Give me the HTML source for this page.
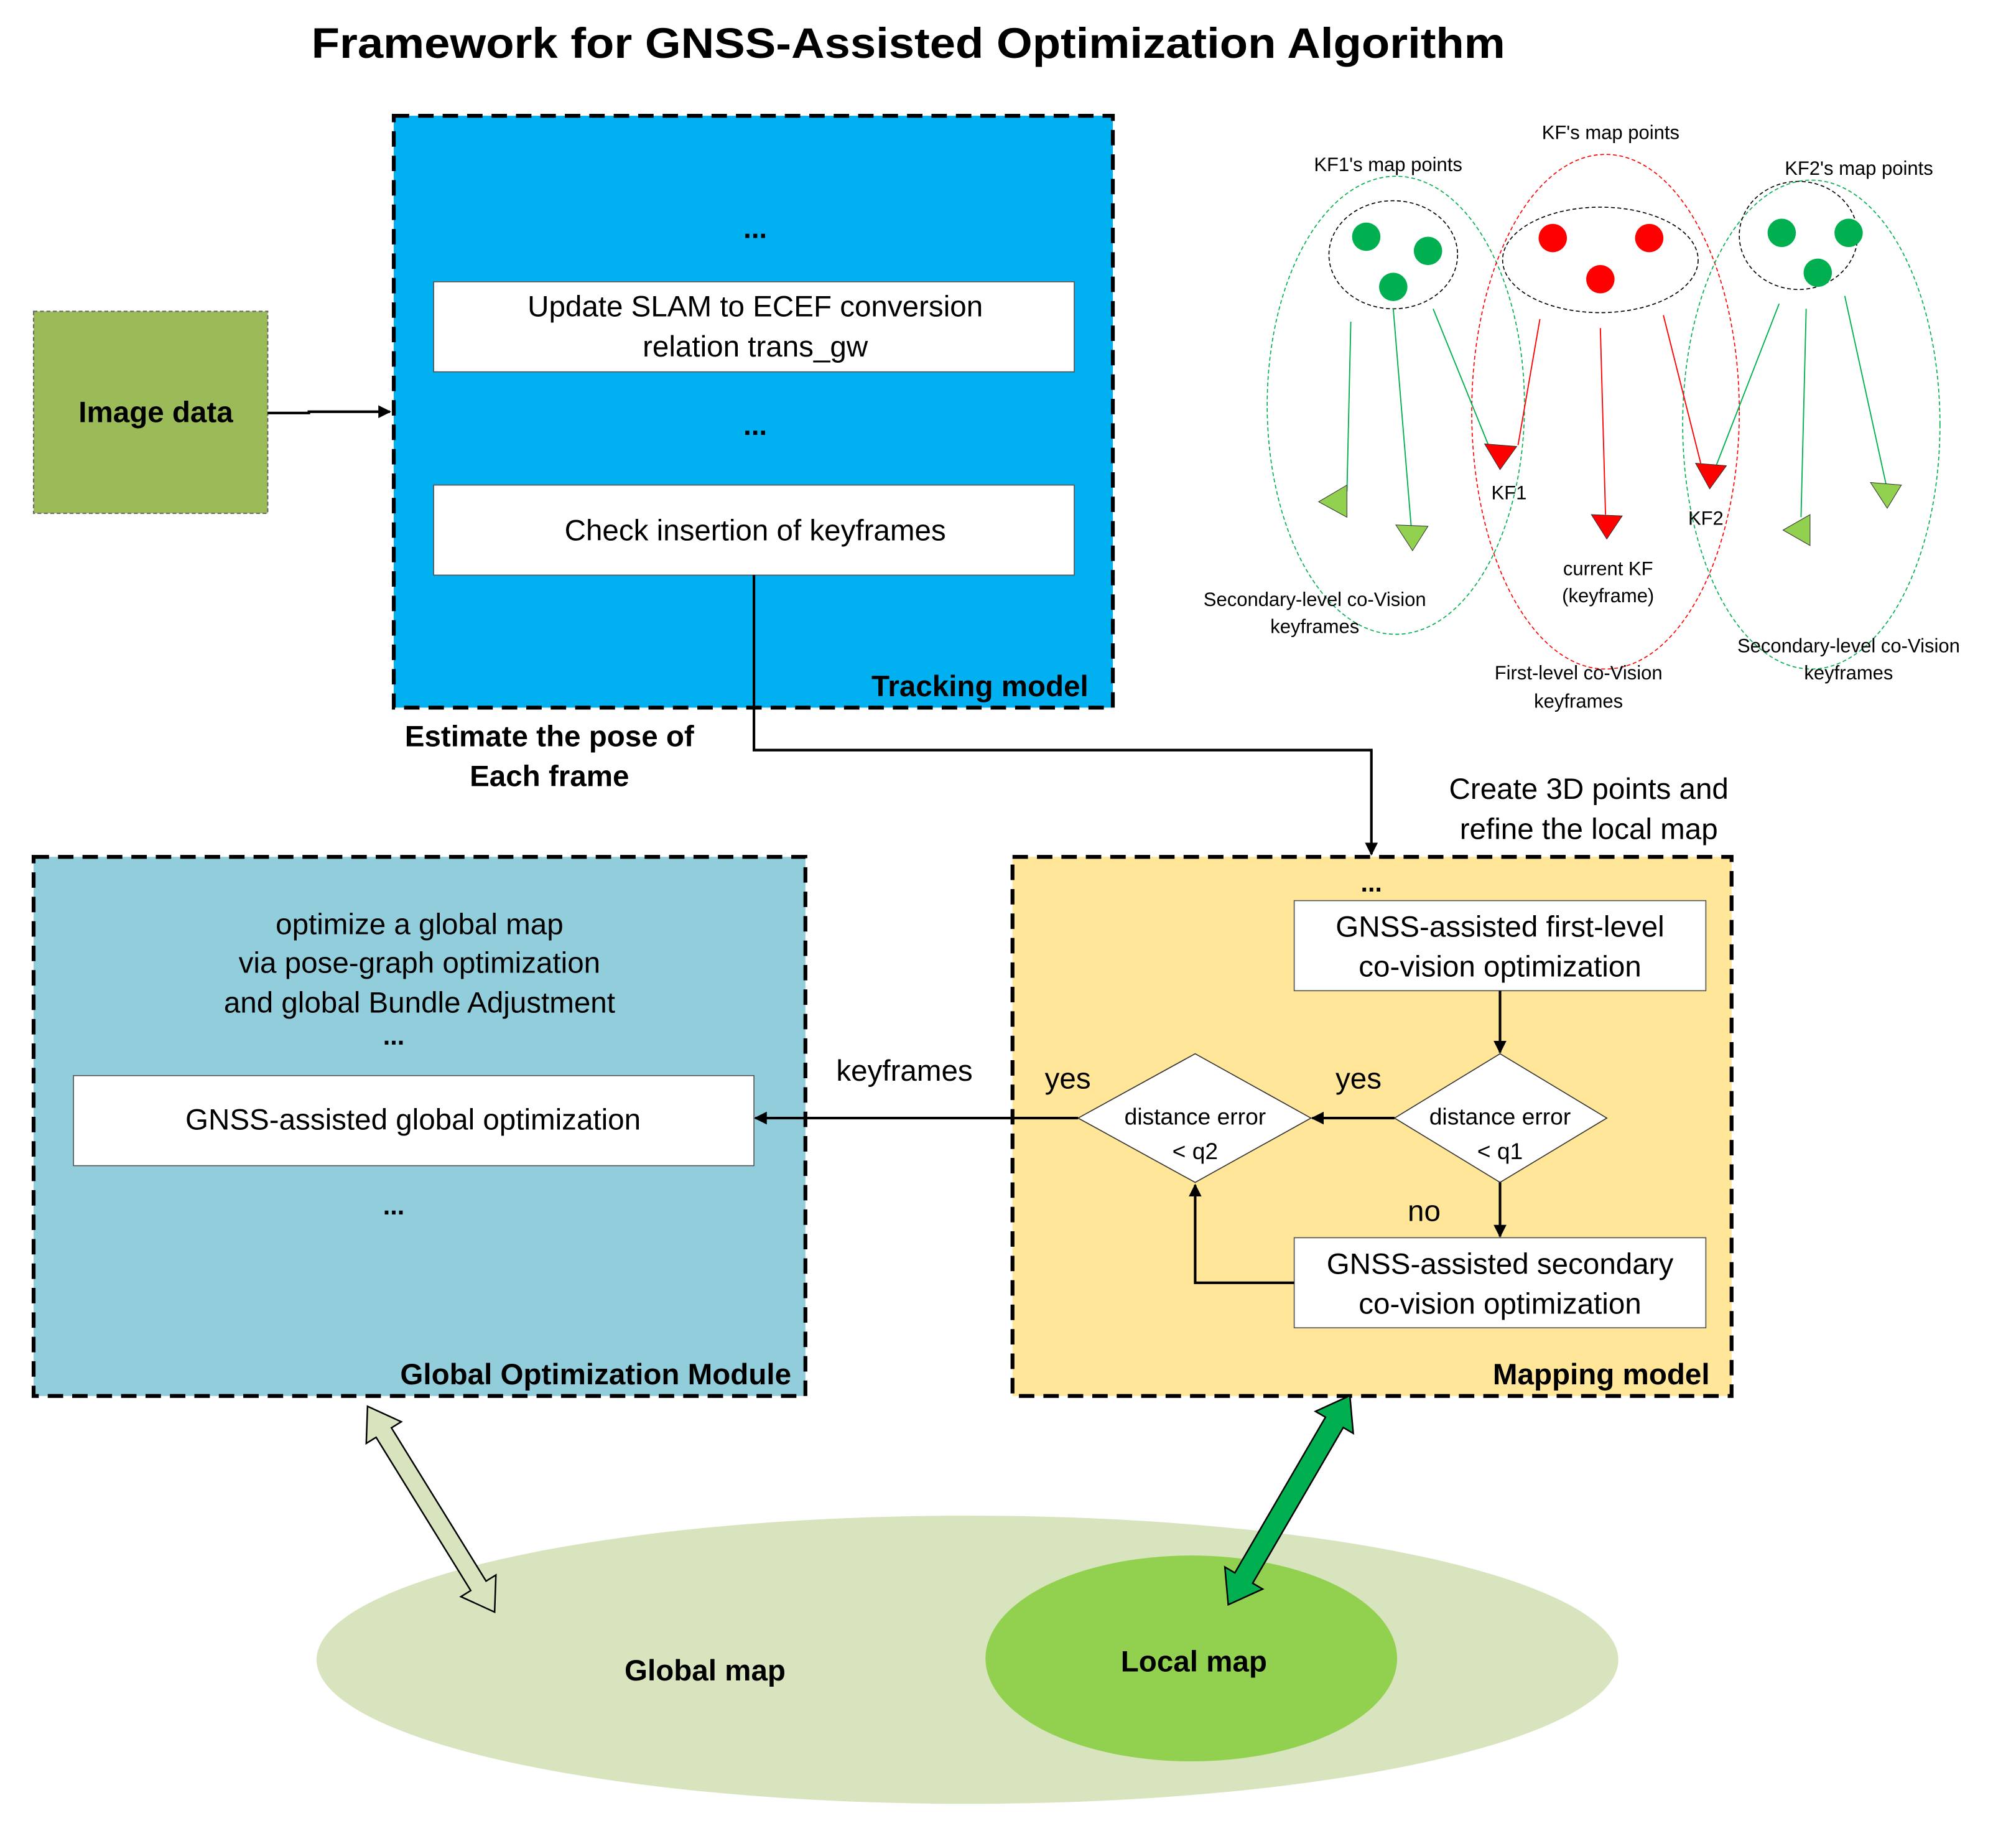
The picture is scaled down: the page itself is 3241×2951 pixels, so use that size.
<!DOCTYPE html>
<html><head><meta charset="utf-8"><style>html,body{margin:0;padding:0;background:#fff}svg{display:block}text{font-family:"Liberation Sans",sans-serif;}</style></head>
<body>
<svg width="3241" height="2951" viewBox="0 0 1567 1427" xmlns="http://www.w3.org/2000/svg">
<defs>
<marker id="ah" markerWidth="10" markerHeight="10" refX="9" refY="5" orient="auto" markerUnits="userSpaceOnUse"><path d="M0,0 L10,5 L0,10 z" fill="#000"/></marker>
</defs>
<rect width="1567" height="1427" fill="#fff"/>
<text x="706" y="45" font-size="33" font-weight="bold" text-anchor="middle" textLength="928" lengthAdjust="spacingAndGlyphs">Framework for GNSS-Assisted Optimization Algorithm</text>

<!-- Image data -->
<rect x="26" y="242" width="182" height="157" fill="#9BBB59" stroke="#666" stroke-dasharray="3,2"/>
<text x="121" y="328" font-size="23" font-weight="bold" text-anchor="middle">Image data</text>
<polyline points="208,321 240,321 240,320 303,320" fill="none" stroke="#000" stroke-width="2" marker-end="url(#ah)"/>

<!-- Tracking -->
<rect x="306" y="90" width="559" height="460" fill="#00B0F0" stroke="#000" stroke-width="3" stroke-dasharray="12,7"/>
<text x="587" y="185" font-size="22" font-weight="bold" text-anchor="middle">...</text>
<rect x="337" y="219" width="498" height="70" fill="#fff" stroke="#555" stroke-width="0.8"/>
<text x="587" y="246" font-size="23" text-anchor="middle">Update SLAM to ECEF conversion</text>
<text x="587" y="277" font-size="23" text-anchor="middle">relation trans_gw</text>
<text x="587" y="338" font-size="22" font-weight="bold" text-anchor="middle">...</text>
<rect x="337" y="377" width="498" height="70" fill="#fff" stroke="#555" stroke-width="0.8"/>
<text x="587" y="420" font-size="23" text-anchor="middle">Check insertion of keyframes</text>
<text x="846" y="541" font-size="23" font-weight="bold" text-anchor="end">Tracking model</text>
<text x="427" y="580" font-size="23" font-weight="bold" text-anchor="middle">Estimate the pose of</text>
<text x="427" y="611" font-size="23" font-weight="bold" text-anchor="middle">Each frame</text>
<polyline points="586,447 586,583 1066,583 1066,664" fill="none" stroke="#000" stroke-width="2" marker-end="url(#ah)"/>
<text x="1235" y="621" font-size="23" text-anchor="middle">Create 3D points and</text>
<text x="1235" y="652" font-size="23" text-anchor="middle">refine the local map</text>

<!-- Mapping -->
<rect x="787" y="666" width="559" height="419" fill="#FFE699" stroke="#000" stroke-width="3" stroke-dasharray="12,7"/>
<text x="1066" y="693" font-size="20" font-weight="bold" text-anchor="middle">...</text>
<rect x="1006" y="700" width="320" height="70" fill="#fff" stroke="#555" stroke-width="0.8"/>
<text x="1166" y="728" font-size="23" text-anchor="middle">GNSS-assisted first-level</text>
<text x="1166" y="759" font-size="23" text-anchor="middle">co-vision optimization</text>
<polygon points="1166,819 1249,869 1166,919 1084,869" fill="#fff" stroke="#333" stroke-width="0.8"/>
<text x="1166" y="874" font-size="18" text-anchor="middle">distance error</text>
<text x="1166" y="901" font-size="18" text-anchor="middle">&lt; q1</text>
<polygon points="929,819 1019,869 929,919 838,869" fill="#fff" stroke="#333" stroke-width="0.8"/>
<text x="929" y="874" font-size="18" text-anchor="middle">distance error</text>
<text x="929" y="901" font-size="18" text-anchor="middle">&lt; q2</text>
<rect x="1006" y="962" width="320" height="70" fill="#fff" stroke="#555" stroke-width="0.8"/>
<text x="1166" y="990" font-size="23" text-anchor="middle">GNSS-assisted secondary</text>
<text x="1166" y="1021" font-size="23" text-anchor="middle">co-vision optimization</text>
<line x1="1166" y1="770" x2="1166" y2="818" stroke="#000" stroke-width="2" marker-end="url(#ah)"/>
<line x1="1084" y1="869" x2="1020" y2="869" stroke="#000" stroke-width="2" marker-end="url(#ah)"/>
<line x1="1166" y1="919" x2="1166" y2="961" stroke="#000" stroke-width="2" marker-end="url(#ah)"/>
<polyline points="1006,997 929,997 929,921" fill="none" stroke="#000" stroke-width="2" marker-end="url(#ah)"/>
<text x="1056" y="846" font-size="23" text-anchor="middle">yes</text>
<text x="830" y="846" font-size="23" text-anchor="middle">yes</text>
<text x="1107" y="949" font-size="23" text-anchor="middle">no</text>
<text x="703" y="840" font-size="23" text-anchor="middle">keyframes</text>
<text x="1329" y="1076" font-size="23" font-weight="bold" text-anchor="end">Mapping model</text>

<!-- Global -->
<rect x="26" y="666" width="600" height="419" fill="#92CDDC" stroke="#000" stroke-width="3" stroke-dasharray="12,7"/>
<text x="326" y="726" font-size="23" text-anchor="middle">optimize a global map</text>
<text x="326" y="756" font-size="23" text-anchor="middle">via pose-graph optimization</text>
<text x="326" y="787" font-size="23" text-anchor="middle">and global Bundle Adjustment</text>
<text x="306" y="812" font-size="20" font-weight="bold" text-anchor="middle">...</text>
<rect x="57" y="836" width="529" height="70" fill="#fff" stroke="#555" stroke-width="0.8"/>
<text x="321" y="878" font-size="23" text-anchor="middle">GNSS-assisted global optimization</text>
<text x="306" y="944" font-size="20" font-weight="bold" text-anchor="middle">...</text>
<text x="615" y="1076" font-size="23" font-weight="bold" text-anchor="end">Global Optimization Module</text>
<line x1="838" y1="869" x2="587" y2="869" stroke="#000" stroke-width="2" marker-end="url(#ah)"/>

<!-- maps -->
<ellipse cx="752" cy="1290" rx="506" ry="112" fill="#D7E4BD"/>
<ellipse cx="926" cy="1289" rx="160" ry="80" fill="#92D050"/>
<text x="548" y="1306" font-size="23" font-weight="bold" text-anchor="middle">Global map</text>
<text x="928" y="1299" font-size="23" font-weight="bold" text-anchor="middle">Local map</text>

<!-- double arrows -->
<g transform="translate(335,1173) rotate(58.3)">
<polygon points="-94,0 -70,-16 -70,-7 70,-7 70,-16 94,0 70,16 70,7 -70,7 -70,16" fill="#D7E4BD" stroke="#000" stroke-width="1.2"/>
</g>
<g transform="translate(1002,1166) rotate(-59.8)">
<polygon points="-94,0 -70,-17 -70,-8 70,-8 70,-17 94,0 70,17 70,8 -70,8 -70,17" fill="#00B050" stroke="#000" stroke-width="1.2"/>
</g>

<!-- right diagram -->
<g fill="none" stroke-width="0.8" stroke-dasharray="3,2">
<ellipse cx="1085" cy="315" rx="100" ry="178" stroke="#00B050"/>
<ellipse cx="1248" cy="320" rx="104" ry="200" stroke="#FF0000"/>
<ellipse cx="1408" cy="330" rx="100" ry="190" stroke="#00B050"/>
<ellipse cx="1083" cy="198" rx="50" ry="42" stroke="#000"/>
<ellipse cx="1244" cy="202" rx="76" ry="41" stroke="#000"/>
<ellipse cx="1398" cy="183" rx="46" ry="42" stroke="#000"/>
</g>
<g fill="#00B050"><circle cx="1062" cy="184" r="11"/><circle cx="1110" cy="195" r="11"/><circle cx="1083" cy="223" r="11"/>
<circle cx="1385" cy="181" r="11"/><circle cx="1437" cy="181" r="11"/><circle cx="1413" cy="212" r="11"/></g>
<g fill="#FF0000"><circle cx="1207" cy="185" r="11"/><circle cx="1282" cy="185" r="11"/><circle cx="1244" cy="217" r="11"/></g>
<g stroke-width="0.9">
<line x1="1050" y1="250" x2="1047" y2="382" stroke="#00B050"/>
<line x1="1083" y1="240" x2="1097" y2="410" stroke="#00B050"/>
<line x1="1114" y1="240" x2="1157" y2="346" stroke="#00B050"/>
<line x1="1197" y1="248" x2="1180" y2="346" stroke="#FF0000"/>
<line x1="1244" y1="255" x2="1248" y2="400" stroke="#FF0000"/>
<line x1="1293" y1="245" x2="1322" y2="360" stroke="#FF0000"/>
<line x1="1383" y1="236" x2="1334" y2="362" stroke="#00B050"/>
<line x1="1404" y1="240" x2="1400" y2="402" stroke="#00B050"/>
<line x1="1434" y1="230" x2="1466" y2="376" stroke="#00B050"/>
</g>
<g stroke="#333" stroke-width="0.5">
<polygon points="1154,345 1179,347 1166,365" fill="#FF0000"/>
<polygon points="1237,400 1261,401 1249,419" fill="#FF0000"/>
<polygon points="1318,360 1342,362 1329,380" fill="#FF0000"/>
<polygon points="1047,377 1047,402 1025,390" fill="#92D050"/>
<polygon points="1085,408 1110,409 1098,428" fill="#92D050"/>
<polygon points="1407,400 1407,424 1386,412" fill="#92D050"/>
<polygon points="1454,375 1478,377 1467,395" fill="#92D050"/>
</g>
<g font-size="15" text-anchor="middle">
<text x="1079" y="133">KF1's map points</text>
<text x="1252" y="108">KF's map points</text>
<text x="1445" y="136">KF2's map points</text>
<text x="1173" y="388">KF1</text>
<text x="1326" y="408">KF2</text>
<text x="1250" y="447">current KF</text>
<text x="1250" y="468">(keyframe)</text>
<text x="1022" y="471">Secondary-level co-Vision</text>
<text x="1022" y="492">keyframes</text>
<text x="1227" y="528">First-level co-Vision</text>
<text x="1227" y="550">keyframes</text>
<text x="1437" y="507">Secondary-level co-Vision</text>
<text x="1437" y="528">keyframes</text>
</g>
</svg>
</body></html>
